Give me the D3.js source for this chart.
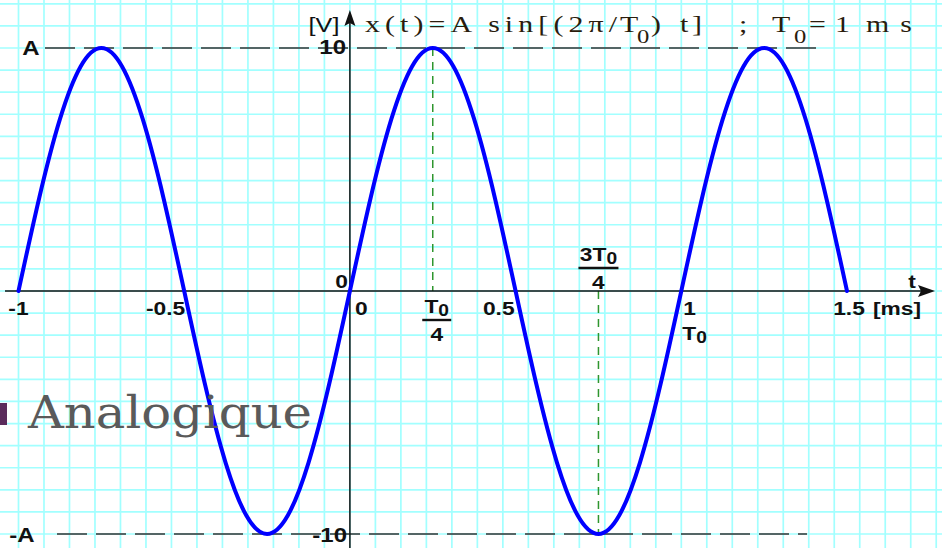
<!DOCTYPE html>
<html>
<head>
<meta charset="utf-8">
<script src="https://cdn.jsdelivr.net/npm/d3@7"></script>
<style>
  html, body { margin: 0; padding: 0; background: #fff; }
  svg { display: block; }
  text { white-space: pre; }
</style>
</head>
<body>
<svg id="chart" width="942" height="548"></svg>
<script>
// Time samples [ms] and signal samples [V] of x(t) = A sin(2πt/T0), A = 10 V, T0 = 1 ms
const timeMs = [
  -1, -0.9375, -0.875, -0.8125, -0.75, -0.6875, -0.625, -0.5625,
  -0.5, -0.4375, -0.375, -0.3125, -0.25, -0.1875, -0.125, -0.0625,
  0, 0.0625, 0.125, 0.1875, 0.25, 0.3125, 0.375, 0.4375,
  0.5, 0.5625, 0.625, 0.6875, 0.75, 0.8125, 0.875, 0.9375,
  1, 1.0625, 1.125, 1.1875, 1.25, 1.3125, 1.375, 1.4375, 1.5
];
const voltage = [
  0, 3.83, 7.07, 9.24, 10, 9.24, 7.07, 3.83,
  0, -3.83, -7.07, -9.24, -10, -9.24, -7.07, -3.83,
  0, 3.83, 7.07, 9.24, 10, 9.24, 7.07, 3.83,
  0, -3.83, -7.07, -9.24, -10, -9.24, -7.07, -3.83,
  0, 3.83, 7.07, 9.24, 10, 9.24, 7.07, 3.83, 0
];
const xTicks = [-1, -0.5, 0, 0.5, 1, 1.5];
const xTickLabels = ["-1", "-0.5", "0", "0.5", "1", "1.5"];
const amplitude = 10;
const quarterMarks = [0.25, 0.75];

const svg = d3.select("#chart");
const W = 942, H = 548;

const x = d3.scaleLinear().domain([-1, 1.5]).range([18.5, 847]);
const y = d3.scaleLinear().domain([-10, 10]).range([534, 48]);

// Squared paper: 13 cells per ms horizontally, 11 cells per 10 V vertically
const gx = (x(1) - x(0)) / 13;
const gy = (y(0) - y(10)) / 11;
const grid = svg.append("g").attr("stroke", "#a2ffff").attr("stroke-width", 1.7);
const x0 = x(0), y0 = y(0);
d3.range(-Math.ceil(x0 / gx), Math.ceil((W - x0) / gx) + 1).forEach(k => {
  grid.append("line").attr("x1", x0 + k * gx).attr("x2", x0 + k * gx).attr("y1", 0).attr("y2", H);
});
d3.range(-Math.ceil(y0 / gy), Math.ceil((H - y0) / gy) + 1).forEach(k => {
  grid.append("line").attr("y1", y0 + k * gy).attr("y2", y0 + k * gy).attr("x1", 0).attr("x2", W);
});

// Amplitude reference lines
const dash = svg.append("g").attr("stroke", "#333").attr("stroke-width", 1.6)
  .attr("stroke-dasharray", "30 9").attr("fill", "none");
dash.append("line").attr("x1", 45).attr("x2", 823).attr("y1", y(amplitude)).attr("y2", y(amplitude));
dash.append("line").attr("x1", 57).attr("x2", 807).attr("y1", y(-amplitude)).attr("y2", y(-amplitude));

// Quarter-period guides
const green = svg.append("g").attr("stroke", "#2e962e").attr("stroke-width", 1.5)
  .attr("stroke-dasharray", "8 6");
green.append("line").attr("x1", x(quarterMarks[0])).attr("x2", x(quarterMarks[0]))
  .attr("y1", y(amplitude)).attr("y2", y(0));
green.append("line").attr("x1", x(quarterMarks[1])).attr("x2", x(quarterMarks[1]))
  .attr("y1", y(0)).attr("y2", y(-amplitude));

// Axes
const axisG = svg.append("g").attr("stroke", "#111").attr("stroke-width", 1.5);
axisG.append("line").attr("x1", 5).attr("x2", 924).attr("y1", y0).attr("y2", y0);
axisG.append("line").attr("x1", x0).attr("x2", x0).attr("y1", 22).attr("y2", H);
svg.append("path").attr("fill", "#111")
  .attr("d", `M935,${y0} L918,${y0 - 6} L921,${y0} L918,${y0 + 6} Z`);
svg.append("path").attr("fill", "#111")
  .attr("d", `M${x0},10 L${x0 - 5.5},26 L${x0},23 L${x0 + 5.5},26 Z`);

// Sine curve
const pts = timeMs.map((t, i) => [t, voltage[i]]);
svg.append("path").datum(pts)
  .attr("fill", "none").attr("stroke", "#0000ff").attr("stroke-width", 4)
  .attr("stroke-linejoin", "round").attr("stroke-linecap", "round")
  .attr("d", d3.line().x(d => x(d[0])).y(d => y(d[1])).curve(d3.curveNatural));

// Labels: bold sans, slightly widened
const sans = "'Liberation Sans', Arial, sans-serif";
const SX = 1.2;
function lab(tx, ty, anchor, size, weight) {
  const g = svg.append("g").attr("transform", `translate(${tx},${ty}) scale(${SX},1)`);
  return g.append("text").attr("text-anchor", anchor || "start")
    .attr("font-family", sans).attr("font-weight", weight || "bold")
    .attr("font-size", size || 19).attr("fill", "#111");
}

const tickAnchor = ["middle", "end", "start", "end", "start", "middle"];
const tickShift = [0, 1, 5, -1, 2, 2];
xTicks.forEach((v, i) => lab(x(v) + tickShift[i], 315, tickAnchor[i]).text(xTickLabels[i]));
lab(x(1.5) + 26, 315, "start").text("[ms]");
lab(x0 - 2, 288, "end").text("0");
lab(912, 288, "middle").text("t");

// T0 under tick 1
const t0 = lab(x(1) + 1, 340, "start");
t0.append("tspan").text("T");
t0.append("tspan").attr("dy", 3).attr("font-size", 16).text("0");

// Fractions T0/4 and 3T0/4
function fraction(cx, top, numPrefix) {
  const num = lab(cx, top + 16, "middle");
  num.append("tspan").text(numPrefix + "T");
  num.append("tspan").attr("dy", 3).attr("font-size", 16).text("0");
  const w = numPrefix ? 40 : 29;
  svg.append("line").attr("x1", cx - w / 2).attr("x2", cx + w / 2)
    .attr("y1", top + 23).attr("y2", top + 23).attr("stroke", "#111").attr("stroke-width", 2.4);
  lab(cx, top + 44, "middle").text("4");
}
fraction(x(quarterMarks[0]) + 4, 297, "");
fraction(x(quarterMarks[1]), 245, "3");

// Amplitude labels
lab(31, 55, "middle", 20).text("A");
lab(22, 542, "middle", 20).text("-A");
lab(346, 54, "end", 20).text("10");
lab(347, 542, "end", 20).text("-10");
lab(324, 32, "middle", 21, "normal").text("[V]");

// Formula, set in a widened serif
const serif = "'Liberation Serif', 'Times New Roman', serif";
const FX = 1.3, fx0 = 365;
const fxp = px => (px - fx0) / FX;
const f = svg.append("g").attr("transform", `translate(${fx0},32) scale(${FX},1)`)
  .append("text").attr("y", 0)
  .attr("font-family", serif).attr("font-size", 23).attr("fill", "#2a1c0c");
f.append("tspan").attr("x", 0).attr("textLength", fxp(617)).attr("lengthAdjust", "spacing")
  .text("x(t)=A sin[(2π/");
f.append("tspan").attr("x", fxp(620)).text("T");
f.append("tspan").attr("x", fxp(637)).attr("y", 11).attr("font-size", 19).text("0");
f.append("tspan").attr("x", fxp(651)).attr("y", 0).text(")");
f.append("tspan").attr("x", fxp(680)).attr("textLength", 22 / FX).attr("lengthAdjust", "spacing").text("t]");
f.append("tspan").attr("x", fxp(739)).text(";");
f.append("tspan").attr("x", fxp(772)).text("T");
f.append("tspan").attr("x", fxp(794)).attr("y", 11).attr("font-size", 19).text("0");
f.append("tspan").attr("x", fxp(809)).attr("y", 0).attr("textLength", 41 / FX).attr("lengthAdjust", "spacing").text("=1");
f.append("tspan").attr("x", fxp(866)).attr("textLength", 46 / FX).attr("lengthAdjust", "spacing").text("ms");

// Slide caption
svg.append("rect").attr("x", 0).attr("y", 403).attr("width", 7).attr("height", 22).attr("fill", "#5b2c5c");
svg.append("text").attr("x", 28).attr("y", 428)
  .attr("font-family", "'DejaVu Serif', serif").attr("font-size", 45).attr("fill", "#5a5a5a")
  .attr("textLength", 284).attr("lengthAdjust", "spacingAndGlyphs")
  .text("Analogique");
</script>
</body>
</html>
